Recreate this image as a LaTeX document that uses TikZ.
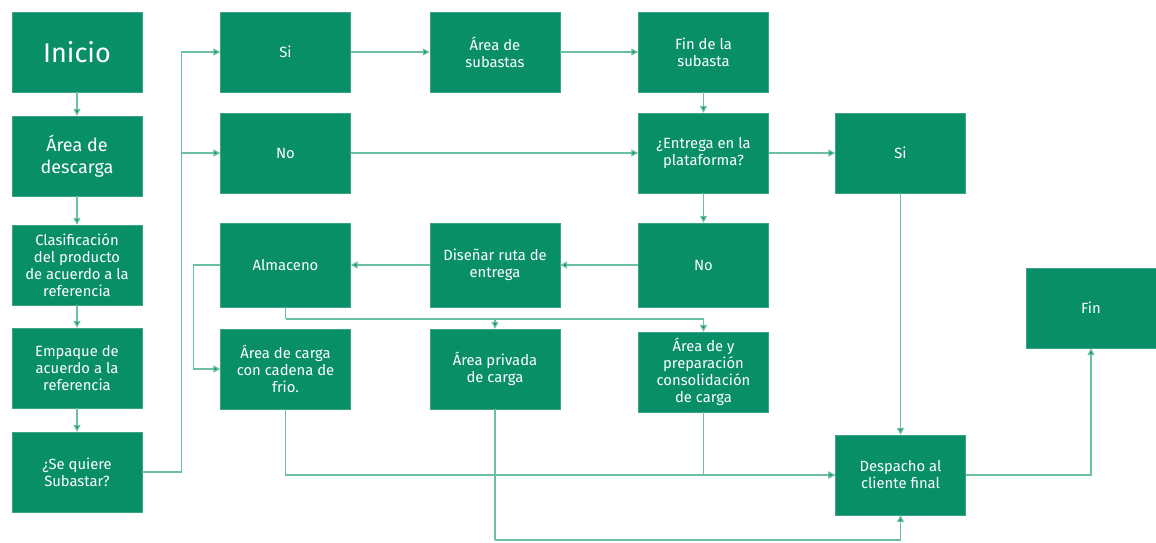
\documentclass[tikz,border=0pt]{standalone}
\usepackage{fontspec}
\setmainfont{Fira Sans}
\usepackage{tikz}
\usetikzlibrary{arrows.meta,calc}
\definecolor{boxgreen}{HTML}{098F67}
\definecolor{linegreen}{HTML}{6CC0A0}

\begin{document}
\begin{tikzpicture}[x=1pt, y=-1pt,
  font=\fontsize{14.8}{17}\selectfont,
  paso/.style={draw=boxgreen!80!white, fill=boxgreen, text=white, align=center,
               minimum width=130pt, minimum height=80pt, inner sep=2pt},
  flecha/.style={-{Triangle[length=7pt, width=7pt, fill=boxgreen]}, draw=linegreen, line width=1.3pt},
  linea/.style={draw=linegreen, line width=1.3pt}]
\useasboundingbox (0,0) rectangle (1156,542);
% primera columna
\node[paso, font=\fontsize{27}{30}\selectfont] (inicio) at (77,52) {Inicio};
\node[paso, font=\fontsize{18}{22}\selectfont] (descarga) at (77,156) {Área de\\descarga};
\node[paso] (clasif)   at (77,265) {Clasificación\\del producto\\de acuerdo a la\\referencia};
\node[paso] (empaque)  at (77,368) {Empaque de\\acuerdo a la\\referencia};
\node[paso] (subastar) at (77,472) {¿Se quiere\\Subastar?};
% segunda columna
\node[paso] (si)       at (285.5,52)  {Si};
\node[paso] (no)       at (285.5,153) {No};
\node[paso, minimum height=84pt] (almaceno) at (285.5,265) {Almaceno};
\node[paso] (carga)    at (285.5,369) {Área de carga\\con cadena de\\frio.};
% tercera columna
\node[paso] (subastas) at (495,52)  {Área de\\subastas};
\node[paso, minimum height=84pt] (ruta) at (495,265) {Diseñar ruta de\\entrega};
\node[paso] (privada)  at (495,369) {Área privada\\de carga};
% cuarta columna
\node[paso] (finsub)    at (703.5,52)  {Fin de la\\subasta};
\node[paso] (entrega)   at (703.5,153) {¿Entrega en la\\plataforma?};
\node[paso, minimum height=84pt] (noentrega) at (703.5,265) {No};
\node[paso] (consol)    at (703.5,372) {Área de y\\preparación\\consolidación\\de carga};
% salida
\node[paso] (sientrega) at (900.5,153) {Si};
\node[paso] (despacho)  at (900.5,475) {Despacho al\\cliente final};
\node[paso] (fin)       at (1091,308)  {Fin};
\coordinate (reparto) at (285.5,319);
\coordinate (abajo) at (495,540);
\foreach \a/\b in {inicio/descarga, descarga/clasif, clasif/empaque, empaque/subastar,
                   finsub/entrega, entrega/noentrega, sientrega/despacho}
  \draw[flecha] (\a) -- (\b);
\foreach \a/\b in {si/subastas, subastas/finsub, no/entrega, entrega/sientrega,
                   noentrega/ruta, ruta/almaceno}
  \draw[flecha] (\a) -- (\b);
\draw[flecha] (subastar.east) -- ++(39,0) |- (si.west);
\draw[flecha] (subastar.east) -- ++(39,0) |- (no.west);
\draw[flecha] (almaceno.west) -- ++(-27,0) |- (carga.west);
\draw[linea] (almaceno.south) -- (reparto);
\draw[flecha] (reparto) -| (privada.north);
\draw[flecha] (reparto) -| (consol.north);
\draw[flecha] (carga.south) |- (despacho.west);
\draw[flecha] (consol.south) |- (despacho.west);
\draw[linea] (privada.south) -- (abajo);
\draw[flecha] (abajo) -| (despacho.south);
\draw[flecha] (despacho.east) -| (fin.south);
\end{tikzpicture}
\end{document}
